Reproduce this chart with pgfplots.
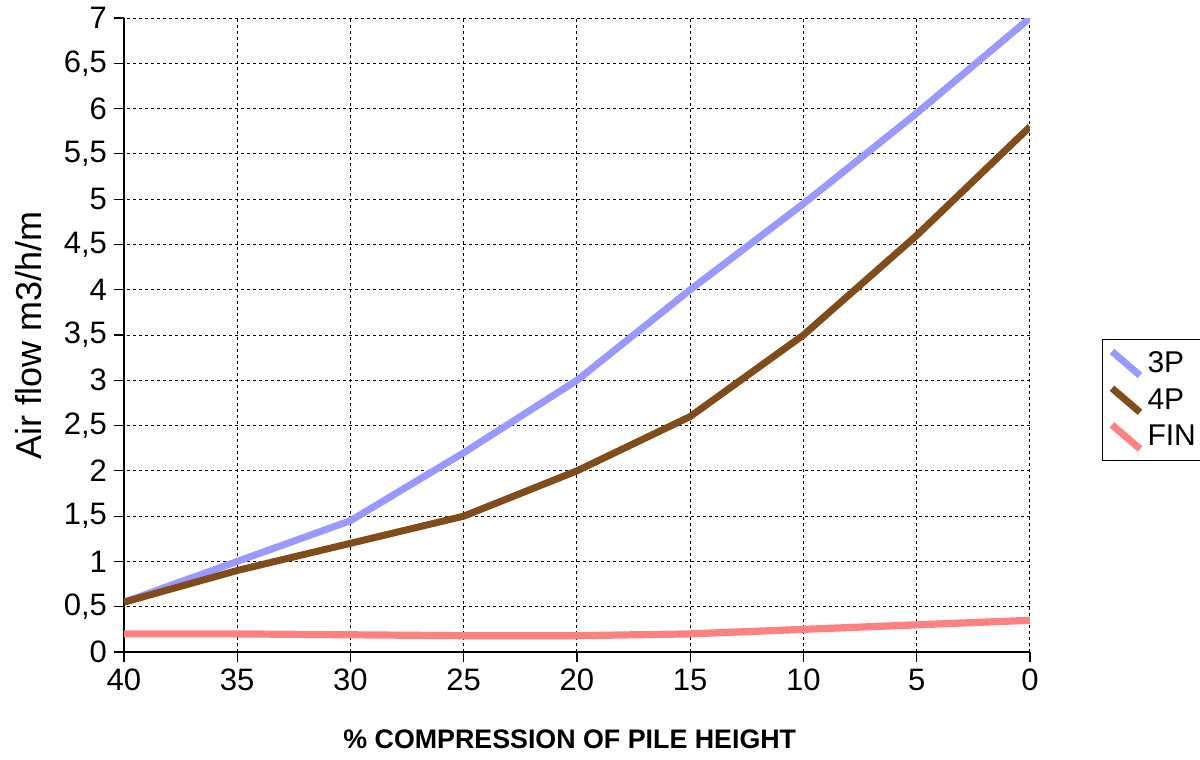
\documentclass[border=0pt]{standalone}
\usepackage{pgfplots}
\pgfplotsset{compat=1.18}
\usepackage{fontspec}
\setmainfont{Liberation Sans}

\definecolor{c3p}{HTML}{9999FF}
\definecolor{c4p}{HTML}{804D1A}
\definecolor{cfin}{HTML}{FF8080}

\begin{document}
\begin{tikzpicture}
% page = 1200x760 px at 0.5pt per px
\useasboundingbox (-62pt,-54pt) rectangle (538pt,326pt);
\begin{axis}[
scale only axis,
width = 453pt,
height = 317pt,
x dir = reverse,
xmin = 0, xmax = 40,
ymin = 0, ymax = 7,
xtick = {0,5,...,40},
ytick = {0,0.5,...,7},
axis lines* = left,
axis line style = {line width=0.6pt, black},
tick align = outside,
major tick length = 5pt,
tick style = {line width=0.6pt, black},
grid = major,
major grid style = {dashed, dash pattern=on 1.5pt off 1.5pt, line width=0.5pt, black},
/pgf/number format/assume math mode=true,
/pgf/number format/use comma,
ticklabel style = {font=\fontsize{15.5}{18}\selectfont},
xlabel = {\% COMPRESSION OF PILE HEIGHT},
xlabel style = {font=\fontsize{13.4}{15}\selectfont\bfseries, at={(axis description cs:0.492,0)}, anchor=base, yshift=-48pt},
ylabel = {Air flow m3/h/m},
ylabel style = {font=\fontsize{18}{20}\selectfont, at={(axis description cs:-0.0905,0.5)}, anchor=base},
legend cell align = left,
legend style = {at={(1.0795,0.4937)}, anchor=north west, draw=black, line width=0.5pt,
  font=\fontsize{15}{17}\selectfont, inner xsep=3pt, inner ysep=4pt, row sep=2.5pt},
legend image code/.code = {\draw[#1, line width=3.5pt] (0pt,6pt) -- (14pt,-6pt);},
]
%% 3P
\addplot[c3p, line width=3.5pt] coordinates {(40,0.55) (35,1.0) (30,1.45) (25,2.2) (20,3.0) (15,4.0) (10,4.95) (5,5.95) (0,7.0)};
%% 4P
\addplot[c4p, line width=3.5pt] coordinates {(40,0.55) (35,0.9) (30,1.2) (25,1.5) (20,2.0) (15,2.6) (10,3.5) (5,4.6) (0,5.8)};
%% FIN
\addplot[cfin, line width=3.6pt] coordinates {(40,0.2) (35,0.2) (30,0.19) (25,0.18) (20,0.18) (15,0.2) (10,0.25) (5,0.3) (0,0.35)};
\legend{3P, 4P, FIN}
\end{axis}
\end{tikzpicture}
\end{document}
